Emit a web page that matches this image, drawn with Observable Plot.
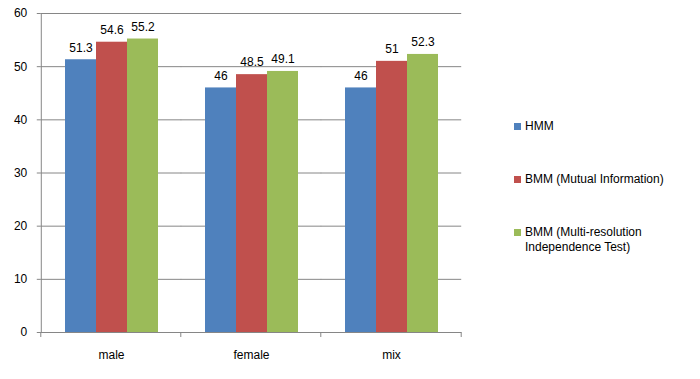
<!DOCTYPE html>
<html><head><meta charset="utf-8">
<script src="https://cdn.jsdelivr.net/npm/d3@7"></script>
<script src="https://cdn.jsdelivr.net/npm/@observablehq/plot@0.6"></script>
<style>
body{margin:0;background:#fff;}
#wrap{position:relative;width:700px;height:379px;overflow:hidden;}
.item{position:absolute;left:514px;font:12px "Liberation Sans",Arial,sans-serif;color:#000;line-height:15px;}
.sw{position:absolute;left:0;top:4px;width:7px;height:7px;}
.lt{margin-left:11px;white-space:nowrap;}
</style></head><body><div id="wrap"></div>
<script>
const categories = ["male", "female", "mix"];
const series = ["HMM", "BMM (Mutual Information)", "BMM (Multi-resolution Independence Test)"];
const legendLines = [["HMM"], ["BMM (Mutual Information)"], ["BMM (Multi-resolution", "Independence Test)"]];
const hmm = [51.3, 46, 46];
const bmmMI = [54.6, 48.5, 51];
const bmmMR = [55.2, 49.1, 52.3];
const colors = ["#4F81BD", "#C0504D", "#9BBB59"];
const yTicks = [0, 10, 20, 30, 40, 50, 60];

const data = [];
categories.forEach((c, i) => {
  [hmm, bmmMI, bmmMR].forEach((arr, j) => data.push({category: c, series: series[j], value: arr[i]}));
});

const W = 700, H = 379, mL = 40, mR = 238, mT = 13, mB = 47;
const pInner = 0.33, pOuter = pInner / 2;
const step = (W - mL - mR) / (categories.length - pInner + 2 * pOuter);
const half = pInner * step / 2;

const chart = Plot.plot({
  width: W, height: H,
  marginLeft: mL, marginRight: mR, marginTop: mT, marginBottom: mB,
  style: {fontFamily: '"Liberation Sans", Arial, sans-serif', fontSize: "12px", color: "#000", background: "#fff"},
  fx: {domain: categories, paddingInner: pInner, paddingOuter: pOuter, label: null},
  x: {domain: series, padding: 0, axis: null},
  y: {domain: [0, 60], label: null},
  color: {domain: series, range: colors},
  marks: [
    Plot.ruleY(yTicks.filter(d => d > 0), {stroke: "#868686", strokeOpacity: 1, insetLeft: -half, insetRight: -half}),
    Plot.barY(data, {fx: "category", x: "series", y: "value", fill: "series"}),
    Plot.text(data, {fx: "category", x: "series", y: "value", text: d => String(d.value), dy: -12, fill: "#000", fontSize: 12}),
    Plot.ruleY([0], {stroke: "#868686", strokeOpacity: 1, insetLeft: -half, insetRight: -half}),
    Plot.frame({anchor: "left", facetAnchor: "left", stroke: "#868686", strokeOpacity: 1, insetLeft: -half}),
    Plot.axisY(yTicks, {facetAnchor: "left", dx: -half, tickSize: 4, text: null, stroke: "#868686", strokeOpacity: 1, label: null}),
    Plot.axisY(yTicks, {facetAnchor: "left", dx: -half, tickSize: 0, tickPadding: 14, label: null, fill: "#000", fontSize: 12}),
    Plot.axisFx({anchor: "bottom", tickSize: 0, tickPadding: 18, label: null, fill: "#000", fontSize: 12})
  ]
});

const wrap = document.getElementById("wrap");
wrap.appendChild(chart);

// category boundary ticks on the baseline
const fx = chart.scale("fx");
const y = chart.scale("y");
const svg = d3.select(chart);
const edges = categories.map(c => fx.apply(c) - half).concat([fx.apply(categories[categories.length - 1]) + fx.bandwidth + half]);
svg.append("g").selectAll("line").data(edges).join("line")
  .attr("x1", d => d).attr("x2", d => d)
  .attr("y1", y.apply(0)).attr("y2", y.apply(0) + 5)
  .attr("stroke", "#868686");

// legend
const tops = [119, 172, 225];
legendLines.forEach((lines, i) => {
  const div = document.createElement("div");
  div.className = "item";
  div.style.top = tops[i] + "px";
  div.innerHTML = `<span class="sw" style="background:${colors[i]}"></span>` + lines.map(l => `<div class="lt">${l}</div>`).join("");
  wrap.appendChild(div);
});
</script></body></html>
